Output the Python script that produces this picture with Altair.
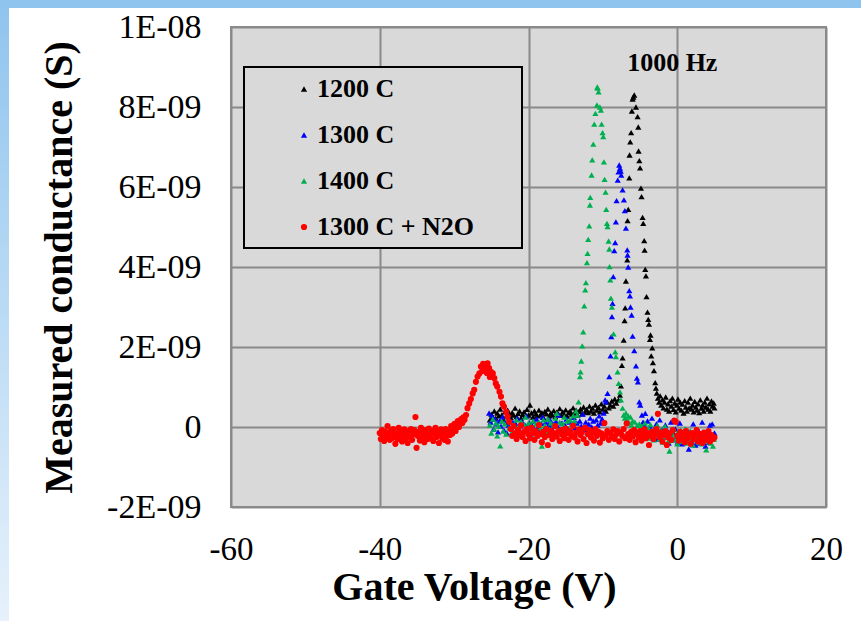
import altair as alt
import pandas as pd

series_names = ["1200 C", "1300 C", "1400 C", "1300 C + N2O"]
series_colors = ["#000000", "#0000ff", "#00b050", "#ff0000"]
series_shapes = ["triangle-up", "triangle-up", "triangle-up", "circle"]
x_ticks = [-60, -40, -20, 0, 20]
y_ticks = [-2, 0, 2, 4, 6, 8, 10]  # in nS (1E-09 S)

# (Gate voltage V, conductance nS)
black = [
    (-25.2, 0.18), (-25.0, 0.32), (-24.8, 0.25), (-24.6, 0.40), (-24.4, 0.22), (-24.2, 0.35), (-24.0, 0.28),
    (-23.8, 0.45), (-23.6, 0.30), (-23.4, 0.20), (-23.2, 0.38), (-23.0, 0.27), (-22.8, 0.42), (-22.6, 0.33),
    (-22.4, 0.24), (-22.2, 0.36), (-22.0, 0.30), (-21.8, 0.47), (-21.6, 0.26), (-21.4, 0.34), (-21.2, 0.40),
    (-21.0, 0.22), (-20.8, 0.31), (-20.6, 0.38), (-20.4, 0.27), (-20.2, 0.44), (-20.0, 0.30), (-19.8, 0.55),
    (-19.6, 0.35), (-19.4, 0.25), (-19.2, 0.40), (-19.0, 0.32), (-18.8, 0.28), (-18.6, 0.42), (-18.4, 0.30),
    (-18.2, 0.36), (-18.0, 0.24), (-17.8, 0.39), (-17.6, 0.33), (-17.4, 0.45), (-17.2, 0.28), (-17.0, 0.35),
    (-16.8, 0.30), (-16.6, 0.41), (-16.4, 0.26), (-16.2, 0.37), (-16.0, 0.33), (-15.8, 0.46), (-15.6, 0.29),
    (-15.4, 0.38), (-15.2, 0.31), (-15.0, 0.43), (-14.8, 0.27), (-14.6, 0.36), (-14.4, 0.40), (-14.2, 0.32),
    (-14.0, 0.48), (-13.8, 0.35), (-13.6, 0.42), (-13.4, 0.30), (-13.2, 0.39), (-13.0, 0.45), (-12.8, 0.33),
    (-12.6, 0.50), (-12.4, 0.37), (-12.2, 0.44), (-12.0, 0.36), (-11.8, 0.52), (-11.6, 0.40), (-11.4, 0.47),
    (-11.2, 0.35), (-11.0, 0.55), (-10.8, 0.42), (-10.6, 0.49), (-10.4, 0.38), (-10.2, 0.58), (-10.0, 0.45),
    (-9.8, 0.52), (-9.6, 0.40), (-9.4, 0.62), (-9.2, 0.48), (-9.0, 0.55), (-8.8, 0.65), (-8.6, 0.52),
    (-8.4, 0.70), (-8.2, 0.60),
    (-7.9, 0.68), (-7.7, 0.80), (-7.57, 1.03), (-7.44, 1.54), (-7.35, 1.73), (-7.2, 2.17), (-7.08, 2.66),
    (-7.0, 2.98), (-6.9, 3.65), (-6.72, 4.18), (-6.68, 5.16), (-6.59, 5.44), (-6.45, 6.23), (-6.41, 6.80),
    (-6.32, 7.13), (-6.2, 7.36), (-6.1, 7.90), (-6.0, 8.20), (-5.9, 8.25), (-5.78, 8.30), (-5.55, 8.00),
    (-5.33, 7.76), (-5.24, 7.50), (-5.2, 6.90), (-5.1, 6.66), (-5.0, 6.48), (-4.88, 5.97), (-4.8, 5.76),
    (-4.66, 5.24), (-4.57, 5.09), (-4.44, 4.66), (-4.39, 4.42), (-4.3, 3.94), (-4.21, 3.78), (-4.13, 3.26),
    (-4.0, 2.87), (-3.9, 2.69), (-3.8, 2.57), (-3.67, 2.19), (-3.59, 2.30), (-3.5, 1.78), (-3.36, 1.98),
    (-3.27, 1.61), (-3.13, 1.41), (-2.96, 1.11), (-2.87, 0.97),
    (-2.75, 0.85), (-2.6, 0.72), (-2.45, 0.62), (-2.3, 0.78), (-2.15, 0.55), (-2.0, 0.68), (-1.85, 0.48),
    (-1.7, 0.62), (-1.55, 0.75), (-1.4, 0.45), (-1.25, 0.58), (-1.1, 0.40), (-0.95, 0.66), (-0.8, 0.52),
    (-0.65, 0.72), (-0.5, 0.44), (-0.35, 0.60), (-0.2, 0.38), (-0.05, 0.55), (0.1, 0.70), (0.25, 0.47),
    (0.4, 0.62), (0.55, 0.42), (0.7, 0.57), (0.85, 0.35), (1.0, 0.66), (1.15, 0.50), (1.3, 0.40),
    (1.45, 0.62), (1.6, 0.48), (1.75, 0.72), (1.9, 0.45), (2.05, 0.55), (2.2, 0.38), (2.35, 0.64),
    (2.5, 0.50), (2.65, 0.42), (2.8, 0.58), (2.95, 0.36), (3.1, 0.68), (3.25, 0.47), (3.4, 0.55),
    (3.55, 0.40), (3.7, 0.62), (3.85, 0.50), (4.0, 0.72), (4.15, 0.45), (4.3, 0.58), (4.45, 0.40),
    (4.6, 0.65), (4.75, 0.52), (4.9, 0.60), (5.0, 0.48),
]

blue = [
    (-25.3, 0.35), (-25.1, 0.12), (-24.9, 0.28), (-24.7, -0.05), (-24.5, 0.20), (-24.3, 0.08), (-24.1, -0.12),
    (-23.9, 0.15), (-23.7, 0.02), (-23.5, 0.25), (-23.3, -0.08), (-23.1, 0.10), (-22.9, -0.15), (-22.7, 0.05),
    (-22.5, 0.18), (-22.3, -0.02), (-22.1, 0.12), (-21.9, -0.20), (-21.7, 0.08), (-21.5, 0.22), (-21.3, -0.06),
    (-21.1, 0.03), (-20.9, 0.15), (-20.7, -0.10), (-20.5, 0.06), (-20.3, 0.28), (-20.1, -0.03), (-19.9, 0.10),
    (-19.7, -0.18), (-19.5, 0.04), (-19.3, 0.14), (-19.1, -0.08), (-18.9, 0.20), (-18.7, 0.00), (-18.5, -0.12),
    (-18.3, 0.09), (-18.1, 0.25), (-17.9, -0.05), (-17.7, 0.12), (-17.5, -0.15), (-17.3, 0.06), (-17.1, 0.18),
    (-16.9, -0.02), (-16.7, 0.08), (-16.5, -0.22), (-16.3, 0.14), (-16.1, 0.02), (-15.9, 0.30), (-15.7, -0.07),
    (-15.5, 0.10), (-15.3, -0.12), (-15.1, 0.05), (-14.9, 0.20), (-14.7, -0.04), (-14.5, 0.12), (-14.3, -0.16),
    (-14.1, 0.08), (-13.9, 0.24), (-13.7, -0.02), (-13.5, 0.10), (-13.3, -0.10), (-13.1, 0.15), (-12.9, 0.03),
    (-12.7, 0.32), (-12.5, -0.06), (-12.3, 0.12), (-12.1, -0.14), (-11.9, 0.07), (-11.7, 0.22), (-11.5, 0.00),
    (-11.3, 0.15), (-11.1, -0.08), (-10.9, 0.18), (-10.7, 0.05), (-10.5, 0.28), (-10.3, 0.10), (-10.1, 0.20),
    (-9.9, 0.35),
    (-9.7, 0.68), (-9.59, 0.63), (-9.37, 0.84), (-9.14, 1.26), (-8.97, 1.78), (-8.87, 2.26), (-8.78, 2.76),
    (-8.7, 3.09), (-8.6, 3.76), (-8.47, 4.41), (-8.34, 4.61), (-8.25, 5.13), (-8.16, 5.66), (-8.0, 6.17),
    (-7.9, 6.38), (-7.8, 6.55), (-7.7, 6.47), (-7.6, 6.40), (-7.53, 6.30), (-7.35, 5.93), (-7.17, 5.68),
    (-7.04, 5.41), (-6.9, 4.97), (-6.72, 4.43), (-6.68, 4.30), (-6.59, 4.00), (-6.45, 3.41), (-6.36, 3.28),
    (-6.28, 3.00), (-6.14, 2.80), (-6.0, 2.27), (-5.78, 1.91), (-5.55, 1.53), (-5.42, 1.22), (-5.29, 1.13),
    (-5.1, 0.63), (-4.97, 0.55), (-4.75, 0.30),
    (-4.6, 0.12), (-4.45, 0.05), (-4.3, 0.34), (-4.15, -0.10), (-4.0, 0.15), (-3.85, -0.20), (-3.7, 0.02),
    (-3.55, -0.15), (-3.4, 0.22), (-3.25, -0.28), (-3.1, -0.05), (-2.95, -0.18), (-2.8, 0.08), (-2.65, -0.30),
    (-2.5, -0.12), (-2.35, 0.18), (-2.2, -0.22), (-2.05, -0.08), (-1.9, -0.35), (-1.75, -0.15), (-1.6, 0.05),
    (-1.45, -0.25), (-1.3, -0.10), (-1.15, -0.40), (-1.0, -0.18), (-0.85, 0.12), (-0.7, -0.28), (-0.55, -0.14),
    (-0.4, -0.32), (-0.25, -0.05), (-0.1, -0.22), (0.05, -0.38), (0.2, -0.12), (0.35, 0.10), (0.5, -0.26),
    (0.65, -0.42), (0.8, -0.16), (0.95, -0.30), (1.1, -0.08), (1.25, -0.35), (1.4, -0.20), (1.55, -0.55),
    (1.7, -0.12), (1.85, -0.28), (2.0, -0.38), (2.15, 0.08), (2.3, -0.22), (2.45, -0.45), (2.6, -0.15),
    (2.75, -0.32), (2.9, -0.10), (3.05, -0.40), (3.2, -0.25), (3.35, 0.12), (3.5, -0.35), (3.65, -0.18),
    (3.8, -0.48), (3.95, -0.28), (4.1, -0.12), (4.25, -0.38), (4.4, 0.05), (4.55, -0.30), (4.7, 0.08),
    (4.85, -0.22), (5.0, -0.15),
]

green = [
    (-25.2, 0.05), (-25.0, -0.15), (-24.8, 0.20), (-24.6, -0.05), (-24.4, 0.10), (-24.2, -0.22), (-24.0, 0.02),
    (-23.8, -0.47), (-23.6, 0.15), (-23.4, -0.10), (-23.2, 0.08), (-23.0, -0.18), (-22.8, 0.22), (-22.6, -0.02),
    (-22.4, 0.12), (-22.2, -0.12), (-22.0, 0.05), (-21.8, -0.20), (-21.6, 0.18), (-21.4, 0.00), (-21.2, -0.08),
    (-21.0, 0.14), (-20.8, -0.15), (-20.6, 0.06), (-20.4, 0.25), (-20.2, -0.05), (-20.0, 0.10), (-19.8, -0.18),
    (-19.6, 0.02), (-19.4, 0.15), (-19.2, -0.10), (-19.0, 0.08), (-18.8, -0.22), (-18.6, 0.12), (-18.4, -0.02),
    (-18.2, -0.48), (-18.0, 0.18), (-17.8, 0.04), (-17.6, -0.12), (-17.4, 0.20), (-17.2, -0.06), (-17.0, 0.10),
    (-16.8, -0.15), (-16.6, 0.05), (-16.4, 0.22), (-16.2, 0.34), (-16.0, -0.08), (-15.8, 0.12), (-15.6, -0.18),
    (-15.4, 0.08), (-15.2, 0.25), (-15.0, -0.04), (-14.8, 0.15), (-14.6, -0.10), (-14.4, 0.18), (-14.2, 0.06),
    (-14.0, 0.28), (-13.8, 0.15), (-13.6, 0.40), (-13.45, 0.30),
    (-13.27, 0.63), (-13.08, 1.26), (-13.0, 1.38), (-12.9, 1.65), (-12.77, 2.03), (-12.64, 2.38), (-12.5, 3.03),
    (-12.37, 3.43), (-12.28, 3.61), (-12.14, 4.11), (-12.06, 4.34), (-11.97, 4.69), (-11.83, 5.03),
    (-11.74, 5.55), (-11.7, 5.74), (-11.52, 6.30), (-11.43, 6.68), (-11.29, 7.07), (-11.16, 7.57),
    (-11.0, 7.84), (-10.8, 8.05), (-10.75, 8.50), (-10.7, 8.47), (-10.58, 8.38), (-10.4, 8.00), (-10.26, 7.92),
    (-10.17, 7.57), (-10.04, 7.36), (-9.95, 7.26), (-9.86, 6.63), (-9.77, 6.19), (-9.64, 5.87), (-9.55, 5.44),
    (-9.45, 5.09), (-9.37, 5.01), (-9.23, 4.65), (-9.14, 4.45), (-9.1, 4.01), (-9.0, 3.68), (-8.92, 3.22),
    (-8.78, 3.00), (-8.56, 2.33), (-8.34, 1.88), (-8.25, 1.76), (-8.02, 1.38), (-7.88, 1.09), (-7.7, 0.88),
    (-7.57, 0.68), (-7.35, 0.47),
    (-7.2, 0.30), (-7.05, 0.22), (-6.9, 0.35), (-6.75, 0.18), (-6.6, 0.28), (-6.45, 0.10), (-6.3, 0.25),
    (-6.15, 0.05), (-6.0, 0.15), (-5.85, -0.05), (-5.7, 0.12), (-5.55, -0.10), (-5.4, 0.04), (-5.25, -0.18),
    (-5.1, 0.08), (-4.95, -0.12), (-4.8, 0.02), (-4.65, -0.22), (-4.5, -0.05), (-4.35, 0.10), (-4.2, -0.15),
    (-4.05, -0.28), (-3.9, -0.02), (-3.75, -0.18), (-3.6, 0.06), (-3.45, -0.25), (-3.3, -0.10), (-3.15, -0.32),
    (-3.0, -0.05), (-2.85, -0.20), (-2.7, 0.04), (-2.55, -0.15), (-2.4, -0.30), (-2.25, -0.08), (-2.1, -0.22),
    (-1.95, -0.38), (-1.8, -0.12), (-1.65, 0.02), (-1.5, -0.25), (-1.35, -0.15), (-1.2, -0.35), (-1.05, -0.60),
    (-0.9, -0.10), (-0.75, -0.28), (-0.6, -0.18), (-0.45, -0.05), (-0.3, -0.32), (-0.15, -0.20), (0.0, -0.42),
    (0.15, -0.12), (0.3, -0.25), (0.45, -0.08), (0.6, -0.35), (0.75, -0.18), (0.9, -0.28), (1.05, -0.05),
    (1.2, -0.22), (1.35, -0.40), (1.5, -0.15), (1.65, -0.30), (1.8, -0.10), (1.95, -0.25), (2.1, -0.45),
    (2.25, -0.18), (2.4, -0.32), (2.55, -0.08), (2.7, -0.22), (2.85, -0.38), (3.0, -0.15), (3.15, -0.28),
    (3.3, -0.42), (3.45, -0.12), (3.6, -0.25), (3.75, -0.35), (3.9, -0.57), (4.05, -0.20), (4.2, -0.30),
    (4.35, -0.12), (4.5, -0.40), (4.65, -0.22), (4.8, -0.48), (4.95, -0.30),
]

red = [
    (-40.0, -0.15), (-39.85, -0.30), (-39.7, -0.08), (-39.55, -0.22), (-39.4, -0.35), (-39.25, -0.12),
    (-39.1, -0.25), (-38.95, 0.02), (-38.8, -0.18), (-38.65, -0.32), (-38.5, -0.10), (-38.35, -0.28),
    (-38.2, -0.05), (-38.05, -0.20), (-37.9, -0.42), (-37.75, -0.15), (-37.6, -0.30), (-37.45, -0.02),
    (-37.3, -0.24), (-37.15, -0.12), (-37.0, -0.36), (-36.85, -0.20), (-36.7, -0.06), (-36.55, -0.28),
    (-36.4, -0.15), (-36.25, -0.40), (-36.1, -0.10), (-35.95, -0.25), (-35.8, -0.05), (-35.65, -0.32),
    (-35.5, -0.18), (-35.35, -0.08), (-35.2, 0.25), (-35.05, -0.52), (-34.9, -0.22), (-34.75, -0.12),
    (-34.6, -0.34), (-34.45, -0.02), (-34.3, -0.26), (-34.15, -0.15), (-34.0, -0.38), (-33.85, -0.08),
    (-33.7, -0.20), (-33.55, -0.30), (-33.4, -0.04), (-33.25, -0.18), (-33.1, -0.28), (-32.95, -0.10),
    (-32.8, -0.35), (-32.65, -0.15), (-32.5, -0.02), (-32.35, -0.25), (-32.2, -0.12), (-32.05, -0.40),
    (-31.9, -0.18), (-31.75, -0.06), (-31.6, -0.28), (-31.45, -0.14), (-31.3, -0.32), (-31.15, -0.05),
    (-31.0, -0.22), (-30.85, -0.36), (-30.7, -0.10), (-30.55, -0.20), (-30.4, 0.02), (-30.25, -0.16),
    (-30.1, -0.05), (-29.95, 0.08), (-29.8, -0.10), (-29.65, 0.05), (-29.5, 0.15), (-29.35, 0.00),
    (-29.2, 0.12), (-29.05, 0.20), (-28.9, 0.10), (-28.75, 0.24), (-28.6, 0.18),
    (-28.4, 0.30), (-28.2, 0.47), (-27.97, 0.59), (-27.75, 0.70), (-27.5, 0.84), (-27.3, 0.93), (-27.07, 1.13),
    (-26.85, 1.26), (-26.6, 1.34), (-26.4, 1.51), (-26.2, 1.40), (-26.1, 1.58), (-25.9, 1.45), (-25.7, 1.53),
    (-25.6, 1.35), (-25.5, 1.59), (-25.3, 1.47), (-25.2, 1.25), (-25.05, 1.38), (-24.8, 1.34), (-24.6, 1.22),
    (-24.4, 1.09), (-24.2, 1.01), (-23.9, 0.88), (-23.7, 0.76), (-23.5, 0.59), (-23.3, 0.51), (-23.0, 0.38),
    (-22.8, 0.26), (-22.6, 0.13),
    (-22.4, -0.05), (-22.2, -0.22), (-22.0, 0.02), (-21.8, -0.15), (-21.6, -0.30), (-21.4, -0.08),
    (-21.2, -0.20), (-21.0, 0.04), (-20.8, -0.25), (-20.6, -0.12), (-20.4, -0.35), (-20.2, -0.05),
    (-20.0, -0.18), (-19.8, -0.28), (-19.6, -0.02), (-19.4, -0.15), (-19.2, -0.32), (-19.0, -0.10),
    (-18.8, -0.22), (-18.6, 0.05), (-18.4, -0.18), (-18.2, -0.38), (-18.0, -0.12), (-17.8, -0.25),
    (-17.6, -0.05), (-17.4, -0.45), (-17.2, -0.20), (-17.0, -0.10), (-16.8, -0.30), (-16.6, -0.15),
    (-16.4, 0.02), (-16.2, -0.24), (-16.0, -0.12), (-15.8, -0.35), (-15.6, -0.08), (-15.4, -0.20),
    (-15.2, -0.28), (-15.0, -0.04), (-14.8, -0.16), (-14.6, -0.32), (-14.4, -0.10), (-14.2, -0.22),
    (-14.0, 0.03), (-13.8, -0.26), (-13.6, -0.14), (-13.4, -0.36), (-13.2, -0.06), (-13.0, -0.20),
    (-12.8, -0.12), (-12.6, -0.30), (-12.4, -0.02), (-12.2, -0.40), (-12.0, -0.18), (-11.8, -0.08),
    (-11.6, -0.26), (-11.4, -0.14), (-11.2, -0.34), (-11.0, -0.05), (-10.8, -0.22), (-10.6, -0.12),
    (-10.4, -0.39), (-10.2, -0.16), (-10.0, -0.28), (-9.8, 0.10), (-9.6, -0.20), (-9.4, -0.10),
    (-9.2, -0.32), (-9.0, -0.15), (-8.8, -0.24), (-8.6, -0.06), (-8.4, -0.30), (-8.2, -0.18),
    (-8.0, -0.10), (-7.8, -0.36), (-7.6, -0.14), (-7.4, -0.22), (-7.2, -0.05), (-7.0, -0.28),
    (-6.8, 0.09), (-6.6, -0.18), (-6.4, -0.32), (-6.2, -0.12), (-6.0, -0.24), (-5.8, -0.08),
    (-5.6, -0.38), (-5.4, -0.16), (-5.2, -0.26), (-5.0, -0.10), (-4.8, -0.34), (-4.6, -0.20),
    (-4.4, -0.06), (-4.2, -0.28), (-4.0, -0.15), (-3.8, -0.45), (-3.6, -0.22), (-3.4, -0.12),
    (-3.2, -0.30), (-3.0, -0.18), (-2.8, -0.05), (-2.6, 0.33), (-2.4, -0.25), (-2.2, -0.14),
    (-2.0, -0.36), (-1.8, -0.20), (-1.6, -0.10), (-1.4, -0.45), (-1.2, -0.26), (-1.0, -0.16),
    (-0.8, -0.32), (-0.6, -0.08), (-0.4, 0.16), (-0.2, 0.13), (0.0, -0.22), (0.2, -0.34),
    (0.4, -0.12), (0.6, -0.26), (0.8, -0.18), (1.0, -0.38), (1.2, -0.10), (1.4, -0.28),
    (1.6, -0.20), (1.8, -0.42), (2.0, -0.15), (2.2, -0.30), (2.4, -0.22), (2.6, -0.08),
    (2.8, -0.36), (3.0, -0.18), (3.2, -0.28), (3.4, -0.40), (3.6, -0.14), (3.8, -0.32),
    (4.0, -0.24), (4.2, -0.10), (4.4, -0.36), (4.6, -0.20), (4.8, -0.30), (5.0, -0.26),
]

annotation = "1000 Hz"

rows = []
for name, pts in zip(series_names, [black, blue, green, red]):
    for v, g in pts:
        rows.append({"V": v, "G": g, "series": name})
df = pd.DataFrame(rows)

FONT = "Liberation Serif"
W, H = 595, 480
PAD_L, PAD_T = 231, 27

legend = alt.Legend(
    orient="none", legendX=60, legendY=49, title=None,
    labelFont=FONT, labelFontSize=26, labelFontWeight="bold", labelColor="black",
    symbolSize=30, rowPadding=20, labelOffset=0, padding=0,
    symbolStrokeWidth=0, symbolOpacity=1, labelLimit=400,
)

y_label_expr = ("datum.value == 10 ? '1E-08' : datum.value == 0 ? '0' : "
                "(datum.value < 0 ? '-' : '') + abs(datum.value) + 'E-09'")
x_label_expr = "'' + datum.value"

points = alt.Chart(df).mark_point(filled=True, opacity=1, strokeWidth=0).encode(
    x=alt.X("V:Q", scale=alt.Scale(domain=[-60, 20], nice=False),
            axis=alt.Axis(values=x_ticks, title="Gate Voltage (V)", grid=True, ticks=False, domain=False,
                          labelExpr=x_label_expr,
                          labelFont=FONT, labelFontSize=33, labelColor="black", labelPadding=26,
                          labelFlush=False,
                          titleFont=FONT, titleFontSize=40, titleFontWeight="bold", titleColor="black",
                          titleX=243, titleY=92, titleBaseline="alphabetic", titleAlign="center")),
    y=alt.Y("G:Q", scale=alt.Scale(domain=[-2, 10], nice=False),
            axis=alt.Axis(values=y_ticks, title="Measured conductance (S)", grid=True, ticks=False,
                          domain=False, labelExpr=y_label_expr,
                          labelFont=FONT, labelFontSize=34, labelColor="black", labelPadding=30,
                          labelFlush=False,
                          titleFont=FONT, titleFontSize=40, titleFontWeight="bold", titleColor="black",
                          titleX=-160, titleY=240, titleBaseline="alphabetic", titleAlign="center",
                          titleAngle=270)),
    color=alt.Color("series:N", scale=alt.Scale(domain=series_names, range=series_colors), legend=legend),
    shape=alt.Shape("series:N", scale=alt.Scale(domain=series_names, range=series_shapes), legend=legend),
    size=alt.Size("series:N", scale=alt.Scale(domain=series_names, range=[38, 38, 38, 55]), legend=None),
)

one = alt.Data(values=[{"k": 1}])

legend_box = alt.Chart(one).mark_rect(fill="#d9d9d9", stroke="black", strokeWidth=2).encode(
    x=alt.value(13), x2=alt.value(291), y=alt.value(40), y2=alt.value(221)
)

top_strip = alt.Chart(one).mark_rect(fill="#8fc4ee", strokeWidth=0).encode(
    x=alt.value(-PAD_L), x2=alt.value(861 - PAD_L), y=alt.value(-PAD_T), y2=alt.value(-PAD_T + 8)
)
left_strip = alt.Chart(one).mark_rect(
    fill={"gradient": "linear", "x1": 0, "y1": 0, "x2": 0, "y2": 1,
          "stops": [{"offset": 0, "color": "#8fc4ee"}, {"offset": 1, "color": "#e6f1fb"}]},
    strokeWidth=0,
).encode(
    x=alt.value(-PAD_L), x2=alt.value(-PAD_L + 9), y=alt.value(-PAD_T), y2=alt.value(621 - PAD_T)
)

label = alt.Chart(pd.DataFrame({"V": [-0.67], "G": [9.1], "t": [annotation]})).mark_text(
    font=FONT, fontSize=26, fontWeight="bold", color="black", align="center", baseline="middle"
).encode(x="V:Q", y="G:Q", text="t:N")

chart = alt.layer(top_strip, left_strip, legend_box, points, label).properties(
    width=W, height=H,
    autosize=alt.AutoSizeParams(type="none"),
    padding={"left": PAD_L, "top": PAD_T, "right": 861 - PAD_L - W, "bottom": 621 - PAD_T - H},
    background="white",
).configure_view(
    fill="#d9d9d9", stroke="#8a8a8a", strokeWidth=2
).configure_axis(
    gridColor="#8a8a8a", gridWidth=2, gridOpacity=1
)

chart.save("out.html", embed_options={"renderer": "svg", "actions": False})
